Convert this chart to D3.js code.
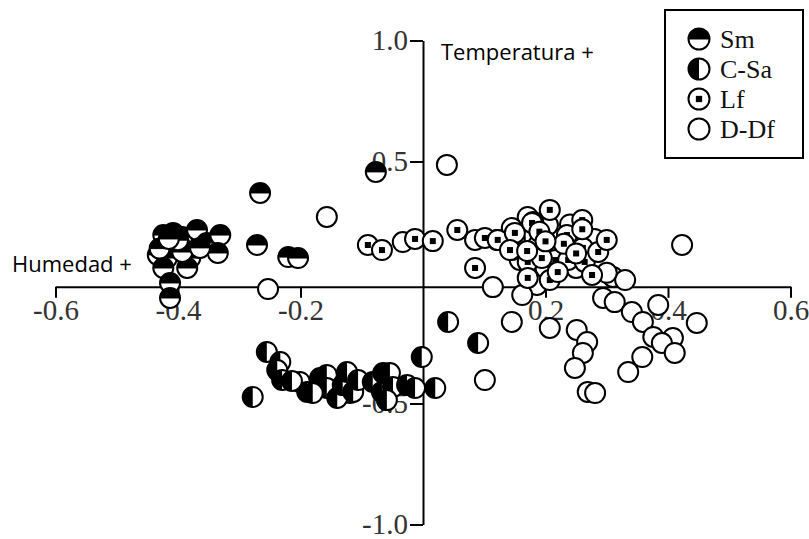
<!DOCTYPE html>
<html><head><meta charset="utf-8">
<script src="https://cdn.jsdelivr.net/npm/d3@7"></script>
<style>body{margin:0;background:#fff}</style></head>
<body>
<svg id="c" width="809" height="539"></svg>
<script>
// ---- data ----
const xTicks = [-0.6, -0.4, -0.2, 0.2, 0.4, 0.6];
const xTickLabels = ["-0.6", "-0.4", "-0.2", "0.2", "0.4", "0.6"];
const yTicks = [1.0, 0.5, -0.5, -1.0];
const yTickLabels = ["1.0", "0.5", "-0.5", "-1.0"];
const groups = ["Sm", "C-Sa", "Lf", "D-Df"];
const axisTitleX = "Humedad +";
const axisTitleY = "Temperatura +";

const dfPoints = [
  [0.039,0.486],[-0.157,0.271],[-0.253,-0.027],[-0.033,0.167],[0.085,0.176],[0.121,0.176],
  [0.171,0.271],[0.204,0.238],[0.158,0.093],[0.186,-0.010],[0.162,-0.052],[0.114,-0.019],
  [0.310,0.023],[0.330,0.010],[0.294,-0.064],[0.313,-0.081],[0.341,-0.122],[0.359,-0.163],
  [0.384,-0.093],[0.408,-0.229],[0.376,-0.225],[0.390,-0.250],[0.411,-0.291],[0.358,-0.308],
  [0.335,-0.370],[0.447,-0.167],[0.423,0.155],[0.251,-0.196],[0.268,-0.246],[0.261,-0.291],
  [0.248,-0.353],[0.207,-0.188],[0.145,-0.163],[0.101,-0.403],[0.269,-0.452],[0.281,-0.457],
  [-0.119,-0.457],[-0.065,-0.415],[0.180,0.250],[0.240,0.240],[0.280,0.180],[0.150,0.180],
  [0.200,0.060],[0.250,0.060],[0.300,0.040]
];
const lfPoints = [
  [-0.090,0.155],[-0.067,0.134],[-0.013,0.180],[0.016,0.171],[0.056,0.217],[0.101,0.184],
  [0.085,0.060],[0.145,0.225],[0.145,0.134],[0.122,0.176],[0.150,0.205],[0.142,0.134],
  [0.178,0.246],[0.207,0.300],[0.188,0.155],[0.171,0.085],[0.171,0.019],[0.207,0.010],
  [0.216,0.093],[0.235,0.196],[0.237,0.093],[0.260,0.258],[0.261,0.143],[0.264,0.085],
  [0.276,0.031],[0.286,0.126],[0.300,0.176],[0.220,0.043],[0.194,0.101],
  [0.190,0.210],[0.230,0.160],[0.250,0.120],[0.200,0.170],[0.170,0.130],[0.260,0.220]
];
const smPoints = [
  [-0.266,0.370],[-0.077,0.457],[-0.271,0.155],[-0.220,0.105],[-0.204,0.101],
  [-0.424,0.196],[-0.408,0.205],[-0.393,0.188],[-0.418,0.155],[-0.397,0.155],[-0.369,0.217],
  [-0.353,0.163],[-0.331,0.196],[-0.335,0.122],[-0.433,0.114],[-0.418,0.101],[-0.380,0.101],
  [-0.385,0.060],[-0.424,0.060],[-0.413,-0.002],[-0.413,-0.064],[-0.393,0.126],[-0.364,0.143],
  [-0.430,0.140],[-0.400,0.175],[-0.415,0.180]
];
const csaPoints = [
  [-0.255,-0.287],[-0.233,-0.329],[-0.238,-0.362],[-0.230,-0.403],[-0.201,-0.411],[-0.189,-0.452],
  [-0.168,-0.395],[-0.157,-0.382],[-0.157,-0.436],[-0.140,-0.477],[-0.131,-0.424],[-0.124,-0.370],
  [-0.114,-0.452],[-0.106,-0.403],[-0.082,-0.411],[-0.067,-0.452],[-0.065,-0.374],[-0.054,-0.374],
  [-0.049,-0.432],[-0.059,-0.486],[-0.026,-0.424],[-0.013,-0.436],[-0.002,-0.308],[0.020,-0.436],
  [-0.278,-0.473],[-0.180,-0.457],[0.041,-0.163],[0.090,-0.250],[-0.214,-0.407]
];
const xAxisAtY = -0.018;

// ---- chart ----
const svg = d3.select("#c");
const x = d3.scaleLinear().domain([-0.6, 0.6]).range([55.5, 790.5]);
const y = d3.scaleLinear().domain([-1, 1]).range([524.5, 40.5]);
const serif = "'Liberation Serif', serif";
const sans = "'Open Sans', sans-serif";

const xAxis = svg.append("g")
  .attr("transform", `translate(0,${y(xAxisAtY)})`)
  .call(d3.axisBottom(x).tickValues(xTicks).tickFormat((d,i)=>xTickLabels[i]).tickSize(11).tickSizeOuter(0).tickPadding(2));
const yAxis = svg.append("g")
  .attr("transform", `translate(${x(0)},0)`)
  .call(d3.axisLeft(y).tickValues(yTicks).tickFormat((d,i)=>yTickLabels[i]).tickSize(13).tickSizeOuter(0).tickPadding(2));
[xAxis, yAxis].forEach(g => {
  g.select(".domain").attr("stroke", "#000").attr("stroke-width", 2);
  g.selectAll(".tick line").attr("stroke", "#000").attr("stroke-width", 2);
  g.selectAll(".tick text").attr("font-family", serif).attr("font-size", 29).attr("fill", "#333");
});

svg.append("text").attr("x", 12).attr("y", 272).attr("font-family", sans).attr("font-size", 22).attr("fill", "#000").text(axisTitleX);
svg.append("text").attr("x", 441).attr("y", 60).attr("font-family", sans).attr("font-size", 22).attr("fill", "#000").text(axisTitleY);

const r = 10;
const topHalf = d3.arc().innerRadius(0).startAngle(-Math.PI/2).endAngle(Math.PI/2);
const leftHalf = d3.arc().innerRadius(0).startAngle(Math.PI).endAngle(2*Math.PI);

function drawSymbol(g, type, rad) {
  g.append("circle").attr("r", rad).attr("fill", "#fff");
  if (type === "Sm") g.append("path").attr("d", topHalf.outerRadius(rad)()).attr("fill", "#000");
  if (type === "C-Sa") g.append("path").attr("d", leftHalf.outerRadius(rad)()).attr("fill", "#000");
  if (type === "Lf") { const s = rad*0.6; g.append("rect").attr("x", -s/2).attr("y", -s/2).attr("width", s).attr("height", s).attr("fill", "#000"); }
  g.append("circle").attr("r", rad).attr("fill", "none").attr("stroke", "#000").attr("stroke-width", 2);
  if (type === "Sm") g.append("line").attr("x1", -rad).attr("x2", rad).attr("stroke", "#000").attr("stroke-width", 1);
}

const sets = [["D-Df", dfPoints], ["Lf", lfPoints], ["Sm", smPoints], ["C-Sa", csaPoints]];
sets.forEach(([type, pts]) => {
  svg.append("g").selectAll("g").data(pts).join("g")
    .attr("transform", d => `translate(${x(d[0])},${y(d[1])})`)
    .each(function(){ drawSymbol(d3.select(this), type, r); });
});

// legend
const leg = svg.append("g");
leg.append("rect").attr("x", 665).attr("y", 10).attr("width", 138).attr("height", 148)
  .attr("fill", "#fff").attr("stroke", "#000").attr("stroke-width", 2);
groups.forEach((gname, i) => {
  const gy = 39 + i * 30;
  const g = leg.append("g").attr("transform", `translate(699,${gy})`);
  drawSymbol(g, gname, 10.5);
  leg.append("text").attr("x", 720).attr("y", gy).attr("dy", "0.35em")
    .attr("font-family", serif).attr("font-size", 26).attr("fill", "#111").text(gname);
});
</script>
</body></html>
